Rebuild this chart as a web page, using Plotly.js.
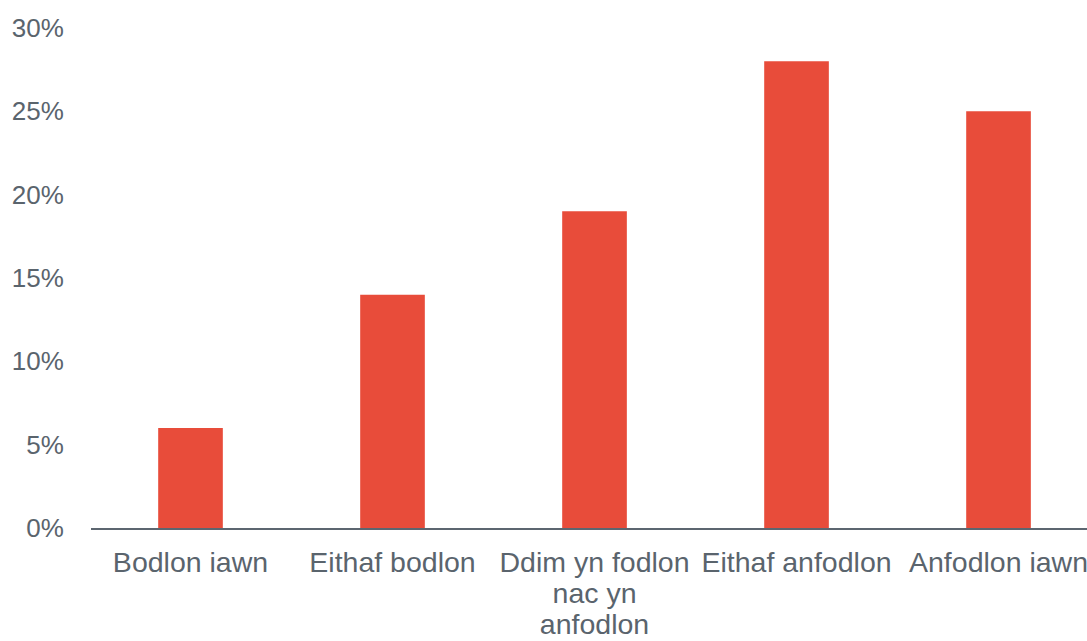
<!DOCTYPE html>
<html>
<head>
<meta charset="utf-8">
<script src="https://cdn.plot.ly/plotly-3.0.1.min.js"></script>
<style>html,body{margin:0;padding:0;background:#fff;}#chart{width:1087px;height:641px;}</style>
</head>
<body>
<div id="chart"></div>
<script>
const categories = ["Bodlon iawn", "Eithaf bodlon", "Ddim yn fodlon<br>nac yn<br>anfodlon", "Eithaf anfodlon", "Anfodlon iawn"];
const values = [0.06, 0.14, 0.19, 0.28, 0.25];
const yTickVals = [0, 0.05, 0.10, 0.15, 0.20, 0.25, 0.30];
const yTickText = ["0%", "5%", "10%", "15%", "20%", "25%", "30%"];

const textColor = "#5a646d";
const xTickText = categories.map(c => c.split("<br>").map(s => '<span style="font-size:28.5px">' + s + '</span>').join("<br>"));
const trace = {
  type: "bar",
  x: [0, 1, 2, 3, 4],
  y: values,
  width: 0.32,
  marker: {color: "#e84c3a"},
  hoverinfo: "skip"
};
const layout = {
  width: 1087, height: 641,
  margin: {l: 91, r: 0, t: 28, b: 113},
  paper_bgcolor: "#fff", plot_bgcolor: "#fff",
  showlegend: false,
  font: {family: "Liberation Sans, Arial, sans-serif", size: 25, color: textColor},
  xaxis: {
    range: [-0.4926, 4.438],
    tickvals: [0, 1, 2, 3, 4],
    ticktext: xTickText,
    showgrid: false, zeroline: false,
    showline: true, linecolor: "#5c6670", linewidth: 2,
    ticks: "outside", ticklen: 14, tickcolor: "rgba(0,0,0,0)",
    tickfont: {size: 23.6, color: textColor},
    ticklabeloverflow: "allow",
    tickangle: 0, fixedrange: true
  },
  yaxis: {
    range: [0, 0.30],
    tickvals: yTickVals,
    ticktext: yTickText,
    showgrid: false, zeroline: false, showline: false,
    ticks: "outside", ticklen: 21, tickcolor: "rgba(0,0,0,0)",
    tickfont: {size: 26, color: textColor},
    ticklabeloverflow: "allow",
    fixedrange: true
  }
};
Plotly.newPlot("chart", [trace], layout, {displayModeBar: false, staticPlot: true});
</script>
</body>
</html>
